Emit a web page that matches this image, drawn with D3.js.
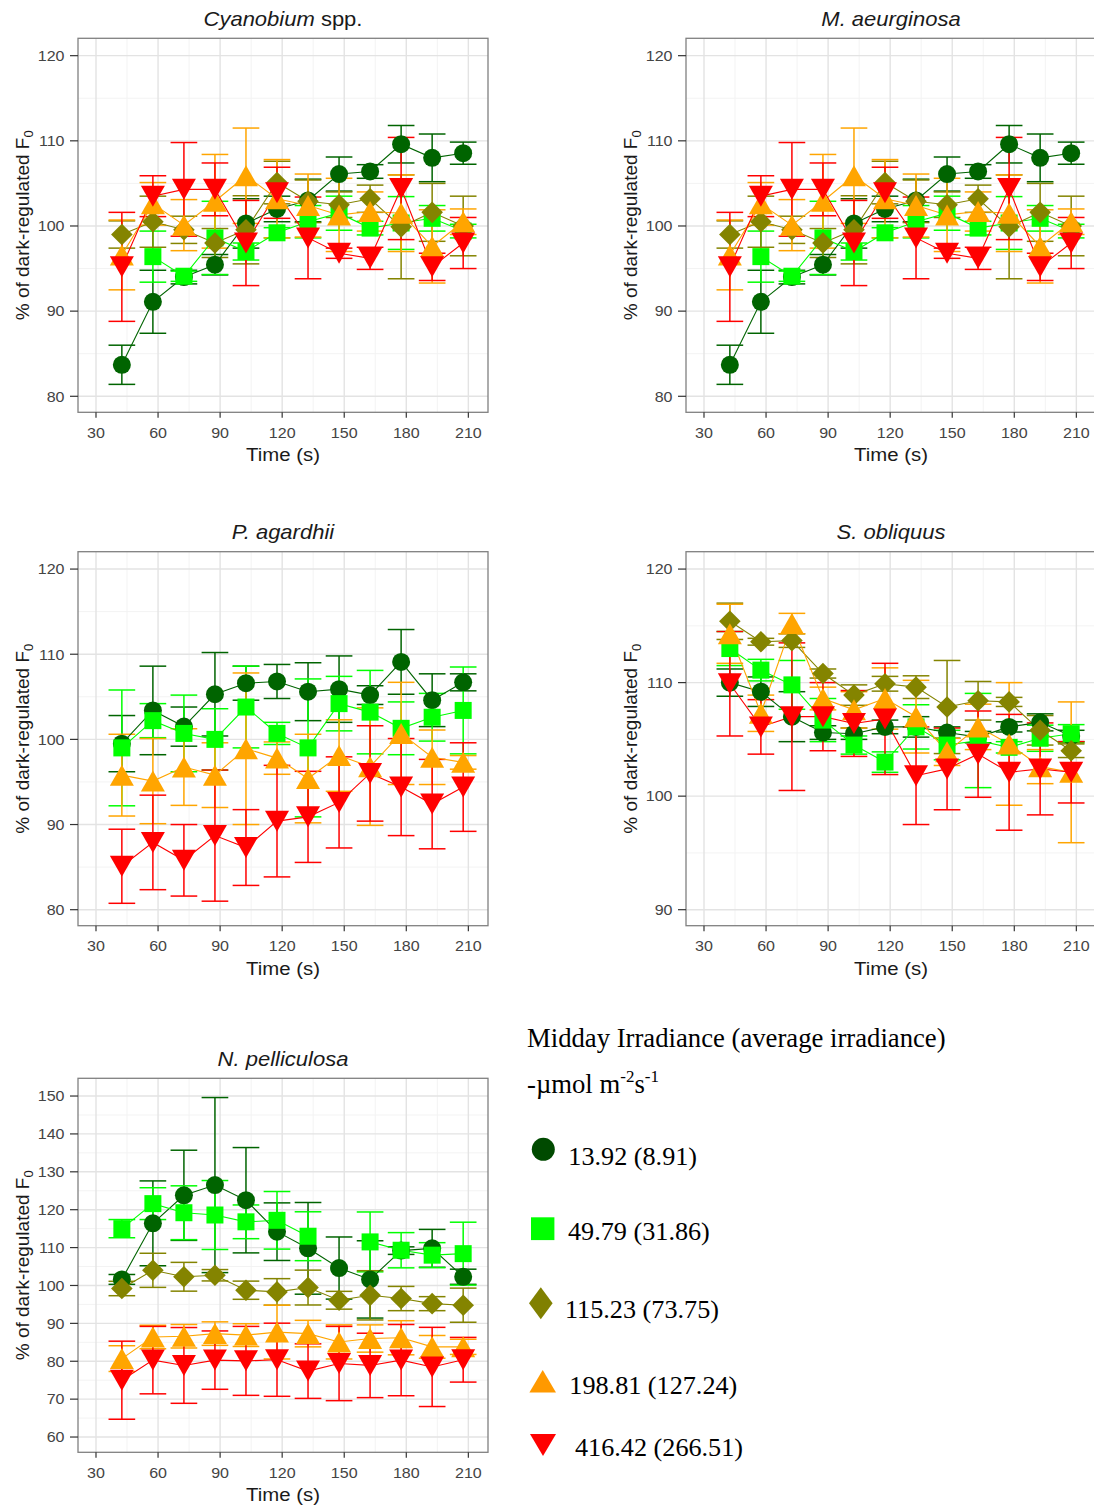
<!DOCTYPE html>
<html>
<head>
<meta charset="utf-8">
<script src="https://cdn.jsdelivr.net/npm/d3@7"></script>
<style>
  body { margin: 0; background: #ffffff; }
  svg { display: block; }
</style>
</head>
<body>
<svg id="fig" width="1094" height="1506"></svg>
<script>
// Sampling times (s) after the start of illumination
const times = [42.5, 57.5, 72.5, 87.5, 102.5, 117.5, 132.5, 147.5, 162.5, 177.5, 192.5, 207.5];

// Irradiance treatments: midday (average) irradiance, µmol m-2 s-1
const treatmentLabels = ["13.92 (8.91)", "49.79 (31.86)", "115.23 (73.75)", "198.81 (127.24)", "416.42 (266.51)"];
const treatmentColors = ["#006400", "#00ff00", "#848400", "#ffa500", "#ff0000"];
const legendColors = ["#004a00", "#00ff00", "#808000", "#ff9900", "#ff0000"];
const treatmentShapes = ["circle", "square", "diamond", "triangleUp", "triangleDown"];

const xTicks = [30, 60, 90, 120, 150, 180, 210];
const xMinorTicks = [45, 75, 105, 135, 165, 195];

// Cyanobium spp. — mean % of dark-regulated F0 and error, one row per treatment
const cyanobiumMean = [
  [83.7, 91.1, 94.0, 95.45, 100.3, 102.0, 103.0, 106.1, 106.4, 109.6, 108.0, 108.55],
  [null, 96.4, 94.1, 98.6, 97.0, 99.2, 100.5, 101.5, 99.75, 100.35, 100.9, 99.4],
  [99.0, 100.5, 99.55, 98.0, 99.55, 105.1, 102.9, 102.5, 103.2, 99.9, 101.6, 100.0],
  [96.6, 102.6, 100.1, 102.9, 105.9, 103.2, 102.4, 101.3, 101.7, 101.5, 97.6, 100.5],
  [95.2, 103.5, 104.3, 104.3, 98.0, 103.9, 98.6, 96.8, 96.2, 104.4, 95.2, 98.0]
];
const cyanobiumErr = [
  [2.3, 3.7, 0.8, 1.2, 2.9, 1.5, 2.5, 2.0, 0.8, 2.2, 2.8, 1.3],
  [null, 3.0, 0.6, 4.3, 1.0, 0.6, 1.9, 2.0, 0.8, 3.1, 1.5, 0.8],
  [1.6, 3.0, 1.6, 1.7, 4.0, 2.5, 2.5, 1.5, 1.6, 6.1, 3.4, 3.5],
  [4.1, 2.5, 3.0, 5.5, 5.6, 4.6, 3.7, 4.3, 2.3, 4.5, 4.3, 1.5],
  [6.4, 2.4, 5.5, 3.1, 5.0, 3.0, 4.8, 0.6, 1.3, 6.0, 1.6, 3.0]
];

// M. aeurginosa
const aeurginosaMean = [
  [83.7, 91.1, 94.0, 95.45, 100.3, 102.0, 103.0, 106.1, 106.4, 109.6, 108.0, 108.55],
  [null, 96.4, 94.1, 98.6, 97.0, 99.2, 100.5, 101.5, 99.75, 100.35, 100.9, 99.4],
  [99.0, 100.5, 99.55, 98.0, 99.55, 105.1, 102.9, 102.5, 103.2, 99.9, 101.6, 100.0],
  [96.6, 102.6, 100.1, 102.9, 105.9, 103.2, 102.4, 101.3, 101.7, 101.5, 97.6, 100.5],
  [95.2, 103.5, 104.3, 104.3, 98.0, 103.9, 98.6, 96.8, 96.2, 104.4, 95.2, 98.0]
];
const aeurginosaErr = [
  [2.3, 3.7, 0.8, 1.2, 2.9, 1.5, 2.5, 2.0, 0.8, 2.2, 2.8, 1.3],
  [null, 3.0, 0.6, 4.3, 1.0, 0.6, 1.9, 2.0, 0.8, 3.1, 1.5, 0.8],
  [1.6, 3.0, 1.6, 1.7, 4.0, 2.5, 2.5, 1.5, 1.6, 6.1, 3.4, 3.5],
  [4.1, 2.5, 3.0, 5.5, 5.6, 4.6, 3.7, 4.3, 2.3, 4.5, 4.3, 1.5],
  [6.4, 2.4, 5.5, 3.1, 5.0, 3.0, 4.8, 0.6, 1.3, 6.0, 1.6, 3.0]
];

// P. agardhii (no 115.23 treatment)
const agardhiiMean = [
  [99.5, 103.4, 101.5, 105.3, 106.6, 106.8, 105.6, 105.9, 105.2, 109.1, 104.6, 106.7],
  [99.0, 102.2, 100.7, 100.0, 103.8, 100.7, 99.0, 104.2, 103.2, 101.3, 102.6, 103.4],
  null,
  [95.8, 95.1, 96.75, 95.8, 98.9, 97.8, 95.4, 98.1, 96.8, 100.7, 97.9, 97.3],
  [85.1, 87.9, 85.8, 88.7, 87.3, 90.4, 90.9, 92.6, 96.0, 94.4, 92.4, 94.4]
];
const agardhiiErr = [
  [3.3, 5.2, 2.3, 4.9, 2.0, 2.0, 3.4, 3.9, 1.1, 3.8, 3.1, 1.0],
  [6.8, 2.0, 4.5, 3.6, 4.8, 1.3, 8.1, 3.2, 4.9, 3.1, 2.8, 5.1],
  null,
  [4.8, 5.0, 4.5, 3.8, 8.9, 1.9, 5.2, 4.2, 6.9, 6.0, 3.2, 0.8],
  [4.35, 5.55, 4.2, 7.7, 4.45, 6.55, 5.35, 5.35, 5.6, 5.7, 5.25, 5.2]
];

// S. obliquus
const obliquusMean = [
  [110.0, 109.2, 107.0, 105.6, 105.5, 106.1, 106.1, 105.6, 105.2, 106.1, 106.5, 105.3],
  [113.0, 111.1, 109.8, 106.7, 104.5, 103.0, 106.1, 104.5, 104.9, 104.3, 105.1, 105.5],
  [115.4, 113.6, 113.7, 110.8, 108.9, 109.9, 109.6, 107.85, 108.4, 108.3, 105.8, 104.0],
  [114.3, 107.3, 115.2, 108.6, 107.6, 108.6, 107.0, 103.9, 106.1, 104.6, 102.6, 102.1],
  [109.9, 106.1, 107.0, 107.0, 106.4, 106.8, 101.8, 102.4, 103.7, 102.1, 102.4, 102.1]
];
const obliquusErr = [
  [1.2, 1.3, 2.2, 0.6, 0.5, 0.6, 0.9, 0.5, 0.5, 0.45, 0.75, 0.5],
  [1.5, 0.95, 2.15, 1.9, 0.8, 0.9, 1.95, 1.3, 4.15, 0.5, 1.15, 0.8],
  [1.6, 0.3, 0.6, 0.4, 0.9, 0.65, 1.0, 4.1, 1.7, 0.4, 1.3, 0.6],
  [2.6, 1.6, 0.9, 1.0, 1.6, 2.7, 3.2, 1.2, 2.0, 5.4, 1.5, 6.2],
  [4.6, 2.4, 6.5, 3.0, 2.9, 4.9, 4.3, 3.6, 3.8, 5.1, 4.05, 2.7]
];

// N. pelliculosa (one missing reading at 147.5 s for 49.79)
const pelliculosaMean = [
  [101.6, 116.4, 123.8, 126.5, 122.5, 114.2, 109.8, 104.6, 101.6, 109.2, 109.8, 102.3],
  [115.0, 121.6, 119.2, 118.6, 116.8, 117.2, 113.0, null, 111.5, 109.3, 108.0, 108.4],
  [99.2, 104.0, 102.3, 102.7, 98.75, 98.3, 99.45, 96.1, 97.4, 96.55, 95.2, 94.8],
  [80.7, 86.4, 86.6, 87.3, 86.9, 87.7, 87.3, 85.1, 86.0, 86.2, 83.8, 83.8],
  [75.0, 80.3, 78.9, 80.3, 80.1, 80.4, 77.4, 79.4, 78.9, 80.3, 78.5, 80.4]
];
const pelliculosaErr = [
  [1.3, 11.2, 11.9, 23.1, 13.9, 7.6, 12.1, 8.2, 10.2, 1.0, 5.0, 2.0],
  [2.4, 4.2, 7.1, 9.1, 4.45, 7.6, 6.45, null, 7.9, 4.65, 3.3, 8.3],
  [1.9, 4.5, 3.8, 1.5, 2.4, 3.5, 4.6, 2.35, 6.5, 3.2, 1.85, 4.5],
  [3.4, 3.1, 3.1, 3.1, 3.0, 7.1, 3.5, 4.5, 3.6, 4.5, 3.0, 2.0],
  [10.3, 8.9, 10.0, 7.7, 9.1, 9.65, 7.2, 9.8, 8.5, 9.4, 10.45, 5.9]
];

// ---------------------------------------------------------------------------
const svg = d3.select("#fig");
const SANS = "'Liberation Sans', Arial, Helvetica, sans-serif";
const SERIF = "'Liberation Serif', 'Times New Roman', serif";
const PANEL_W = 410, PANEL_H = 374;

// Marker path generators (pixel sizes)
function markerPath(shape) {
  switch (shape) {
    case "circle": {
      const r = 9;
      return `M${-r},0A${r},${r} 0 1,0 ${r},0A${r},${r} 0 1,0 ${-r},0Z`;
    }
    case "square": {
      const h = 8.5;
      return `M${-h},${-h}H${h}V${h}H${-h}Z`;
    }
    case "diamond": {
      const w = 10.8, h = 10.8;
      return `M0,${-h}L${w},0L0,${h}L${-w},0Z`;
    }
    case "triangleUp": {
      const w = 12, h = 10.5;
      return `M0,${-h}L${w},${h}L${-w},${h}Z`;
    }
    case "triangleDown": {
      const w = 12, h = 10.5;
      return `M0,${h}L${w},${-h}L${-w},${-h}Z`;
    }
  }
}

// Horizontal text is drawn slightly widened, like the exported figure
function wideText(parent, x, y, k) {
  return parent.append("text").attr("transform", `translate(${x},${y}) scale(${k},1)`);
}

function drawPanel(cfg) {
  const { left, top, yDomain, yTicks, yMinor, title, means, errs } = cfg;
  const g = svg.append("g");
  const x = d3.scaleLinear().domain([21.3, 219.5]).range([left, left + PANEL_W]);
  const y = d3.scaleLinear().domain(yDomain).range([top + PANEL_H, top]);
  const bottom = top + PANEL_H, right = left + PANEL_W;

  // background + grid
  g.append("rect").attr("x", left).attr("y", top).attr("width", PANEL_W).attr("height", PANEL_H).attr("fill", "#ffffff");
  const grid = g.append("g");
  grid.selectAll(".xmin").data(xMinorTicks).join("line")
    .attr("x1", d => x(d)).attr("x2", d => x(d)).attr("y1", top).attr("y2", bottom)
    .attr("stroke", "#f3f3f3").attr("stroke-width", 1);
  grid.selectAll(".ymin").data(yMinor).join("line")
    .attr("y1", d => y(d)).attr("y2", d => y(d)).attr("x1", left).attr("x2", right)
    .attr("stroke", "#f3f3f3").attr("stroke-width", 1);
  grid.selectAll(".xmaj").data(xTicks).join("line")
    .attr("x1", d => x(d)).attr("x2", d => x(d)).attr("y1", top).attr("y2", bottom)
    .attr("stroke", "#e3e3e3").attr("stroke-width", 1.4);
  grid.selectAll(".ymaj").data(yTicks).join("line")
    .attr("y1", d => y(d)).attr("y2", d => y(d)).attr("x1", left).attr("x2", right)
    .attr("stroke", "#e3e3e3").attr("stroke-width", 1.4);

  const capHalf = (x(times[1]) - x(times[0])) * 0.43;
  const active = d3.range(5).filter(i => means[i]);

  // error bars
  active.forEach(i => {
    const pts = times.map((t, j) => ({ t, m: means[i][j], e: errs[i][j] })).filter(p => p.m != null);
    const eg = g.append("g").attr("stroke", treatmentColors[i]).attr("stroke-width", 1.5).attr("fill", "none");
    pts.forEach(p => {
      const cx = x(p.t), y1 = y(p.m + p.e), y0 = y(p.m - p.e);
      eg.append("line").attr("x1", cx).attr("x2", cx).attr("y1", y1).attr("y2", y0);
      eg.append("line").attr("x1", cx - capHalf).attr("x2", cx + capHalf).attr("y1", y1).attr("y2", y1);
      eg.append("line").attr("x1", cx - capHalf).attr("x2", cx + capHalf).attr("y1", y0).attr("y2", y0);
    });
  });

  // connecting lines
  active.forEach(i => {
    const line = d3.line().defined(d => d[1] != null).x(d => x(d[0])).y(d => y(d[1]));
    g.append("path").datum(times.map((t, j) => [t, means[i][j]]))
      .attr("d", line).attr("fill", "none")
      .attr("stroke", treatmentColors[i]).attr("stroke-width", 1.1);
  });

  // markers
  active.forEach(i => {
    g.append("g").selectAll("path")
      .data(times.map((t, j) => [t, means[i][j]]).filter(d => d[1] != null))
      .join("path")
      .attr("transform", d => `translate(${x(d[0])},${y(d[1])})`)
      .attr("d", markerPath(treatmentShapes[i]))
      .attr("fill", treatmentColors[i]);
  });

  // panel border
  g.append("rect").attr("x", left).attr("y", top).attr("width", PANEL_W).attr("height", PANEL_H)
    .attr("fill", "none").attr("stroke", "#808080").attr("stroke-width", 1.3);

  // axes ticks and labels
  const ax = g.append("g").attr("font-family", SANS).attr("fill", "#444444");
  xTicks.forEach(v => {
    ax.append("line").attr("x1", x(v)).attr("x2", x(v)).attr("y1", bottom).attr("y2", bottom + 5.5)
      .attr("stroke", "#333333").attr("stroke-width", 1.2);
    wideText(ax, x(v), bottom + 25.5, 1.07).attr("text-anchor", "middle").attr("font-size", 15).text(v);
  });
  yTicks.forEach(v => {
    ax.append("line").attr("x1", left - 8).attr("x2", left).attr("y1", y(v)).attr("y2", y(v))
      .attr("stroke", "#333333").attr("stroke-width", 1.2);
    wideText(ax, left - 13.5, y(v) + 5.3, 1.07).attr("text-anchor", "end").attr("font-size", 15).text(v);
  });

  // axis titles
  wideText(g, left + PANEL_W / 2, bottom + 49, 1.1)
    .attr("text-anchor", "middle").attr("font-family", SANS).attr("font-size", 18.5).attr("fill", "#1a1a1a")
    .text("Time (s)");
  const yl = g.append("text")
    .attr("transform", `translate(${left - 49},${top + PANEL_H / 2}) rotate(-90)`)
    .attr("text-anchor", "middle").attr("font-family", SANS).attr("font-size", 19).attr("fill", "#1a1a1a");
  yl.append("tspan").text("% of dark-regulated F");
  yl.append("tspan").attr("font-size", 13).attr("dy", 4).text("0");

  // panel title
  const tt = wideText(g, left + PANEL_W / 2, top - 12.3, 1.1)
    .attr("text-anchor", "middle").attr("font-family", SANS).attr("font-size", 20).attr("fill", "#1a1a1a");
  title.forEach(part => {
    tt.append("tspan").attr("font-style", part.italic ? "italic" : "normal").text(part.text);
  });
}

drawPanel({ left: 78, top: 38.3, yDomain: [78.12, 122.04], yTicks: [80, 90, 100, 110, 120], yMinor: [85, 95, 105, 115],
  title: [{ text: "Cyanobium", italic: true }, { text: " spp.", italic: false }], means: cyanobiumMean, errs: cyanobiumErr });
drawPanel({ left: 686, top: 38.3, yDomain: [78.12, 122.04], yTicks: [80, 90, 100, 110, 120], yMinor: [85, 95, 105, 115],
  title: [{ text: "M. aeurginosa", italic: true }], means: aeurginosaMean, errs: aeurginosaErr });
drawPanel({ left: 78, top: 551.7, yDomain: [78.12, 122.04], yTicks: [80, 90, 100, 110, 120], yMinor: [85, 95, 105, 115],
  title: [{ text: "P. agardhii", italic: true }], means: agardhiiMean, errs: agardhiiErr });
drawPanel({ left: 686, top: 551.7, yDomain: [88.59, 121.53], yTicks: [90, 100, 110, 120], yMinor: [95, 105, 115],
  title: [{ text: "S. obliquus", italic: true }], means: obliquusMean, errs: obliquusErr });
drawPanel({ left: 78, top: 1078.3, yDomain: [55.97, 154.68], yTicks: [60, 70, 80, 90, 100, 110, 120, 130, 140, 150],
  yMinor: [65, 75, 85, 95, 105, 115, 125, 135, 145],
  title: [{ text: "N. pelliculosa", italic: true }], means: pelliculosaMean, errs: pelliculosaErr });

// ---------------------------------------------------------------------------
// Legend
const lg = svg.append("g").attr("font-family", SERIF).attr("fill", "#000000");
lg.append("text").attr("x", 527).attr("y", 1047).attr("font-size", 26.7).text("Midday Irradiance (average irradiance)");
const unit = lg.append("text").attr("x", 527).attr("y", 1093).attr("font-size", 26.7);
unit.append("tspan").text("-µmol m");
unit.append("tspan").attr("font-size", 17).attr("dy", -11).text("-2");
unit.append("tspan").attr("dy", 11).text("s");
unit.append("tspan").attr("font-size", 17).attr("dy", -11).text("-1");

const legendRows = [
  { mx: 543.3, my: 1149.3, tx: 568.3, ty: 1165 },
  { mx: 542.7, my: 1228.7, tx: 568, ty: 1240 },
  { mx: 540.8, my: 1303.3, tx: 565, ty: 1318.3 },
  { mx: 542.7, my: 1381.3, tx: 569.3, ty: 1394 },
  { mx: 543, my: 1445, tx: 575, ty: 1456 }
];
const legendShapes = {
  circle: "M-11.5,0A11.5,11.5 0 1,0 11.5,0A11.5,11.5 0 1,0 -11.5,0Z",
  square: "M-11.7,-11.4H11.7V11.4H-11.7Z",
  diamond: "M0,-16L11.8,0L0,16L-11.8,0Z",
  triangleUp: "M0,-11.3L13.3,11.3L-13.3,11.3Z",
  triangleDown: "M0,11L13,-11L-13,-11Z"
};
treatmentLabels.forEach((label, i) => {
  const r = legendRows[i];
  lg.append("path").attr("transform", `translate(${r.mx},${r.my})`)
    .attr("d", legendShapes[treatmentShapes[i]]).attr("fill", legendColors[i]);
  lg.append("text").attr("x", r.tx).attr("y", r.ty).attr("font-size", 26.2).text(label);
});
</script>
</body>
</html>
